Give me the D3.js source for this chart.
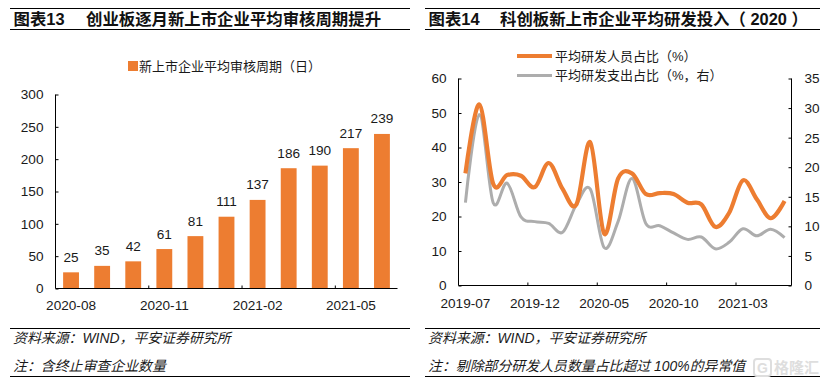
<!DOCTYPE html>
<html>
<head>
<meta charset="utf-8">
<script src="https://cdn.jsdelivr.net/npm/d3@7"></script>
<style>
	body { margin: 0; background: #fff; }
	svg { display: block; }
	text { fill: #1a1a1a; font-family: "Liberation Sans", "Noto Sans CJK SC", sans-serif; }
	.tick text, .num { font-size: 13.6px; }
	.legend { font-size: 13px; }
	.title { font-size: 16.4px; font-weight: bold; fill: #111; }
	.note { font-size: 13.9px; font-style: italic; }
	.rule, .domain, .tick line, .axis-line { stroke: #000; stroke-width: 1px; }
</style>
</head>
<body>
<svg id="chart" width="827" height="384"></svg>
<script>
const orange = "#ED7D31";
const gray = "#ADADAD";

// figure 13
const reviewMonths = ["2020-08", "2020-09", "2020-10", "2020-11", "2020-12", "2021-01", "2021-02", "2021-03", "2021-04", "2021-05", "2021-06"];
const reviewDays = [25, 35, 42, 61, 81, 111, 137, 186, 190, 217, 239];
const reviewTicks = [0, 50, 100, 150, 200, 250, 300];
const reviewLabels = ["2020-08", "2020-11", "2021-02", "2021-05"];

// figure 14
const rdMonths = ["2019-07", "2019-08", "2019-09", "2019-10", "2019-11", "2019-12", "2020-01", "2020-02", "2020-03", "2020-04", "2020-05", "2020-06", "2020-07", "2020-08", "2020-09", "2020-10", "2020-11", "2020-12", "2021-01", "2021-02", "2021-03", "2021-04", "2021-05", "2021-06"];
const rdStaff = [32.5, 52.5, 29.5, 32, 31.8, 28.5, 35.5, 28, 23.5, 41.5, 15, 31, 32.5, 26.5, 26.8, 26.5, 24, 23.5, 17, 21, 30.5, 25, 19.5, 24.5];
const rdSpend = [14, 28.9, 14, 17.3, 11.6, 10.8, 10.5, 9, 13.7, 16.3, 6.4, 10.8, 18.1, 10.5, 10.1, 8.9, 7.8, 8.2, 6.2, 7.3, 9.6, 8.4, 9.5, 8.1];
const rdLeftTicks = [0, 10, 20, 30, 40, 50, 60];
const rdRightTicks = [0, 5, 10, 15, 20, 25, 30, 35];
const rdLabels = ["2019-07", "2019-12", "2020-05", "2020-10", "2021-03"];

const svg = d3.select("#chart");

function drawFrame(x1, x2, label, title, titleX, note1, note2) {
	[8.5, 29.5, 328.5, 376.5].forEach(function(y) {
		svg.append("line").attr("class", "rule")
			.attr("x1", x1).attr("x2", x2).attr("y1", y).attr("y2", y);
	});
	svg.append("text").attr("class", "title").attr("x", x1 + 3.5).attr("y", 25).text(label);
	svg.append("text").attr("class", "title").attr("x", titleX).attr("y", 25).text(title);
	svg.append("text").attr("class", "note").attr("x", x1 + 3).attr("y", 343).text(note1);
	svg.append("text").attr("class", "note").attr("x", x1 + 3).attr("y", 371).text(note2);
}

function drawAxisX(scale, labels, y, stepTicks, pad) {
	let axis = svg.append("g")
		.attr("transform", `translate(0,${y})`)
		.call(d3.axisBottom(scale).tickValues(labels).tickSize(0).tickPadding(pad));
	axis.select(".domain").remove();
	axis.selectAll("text").attr("dy", "0.71em");
	let bw = scale.step();
	svg.append("g").selectAll("line")
		.data(stepTicks)
		.enter()
		.append("line")
		.attr("class", "axis-line")
		.attr("x1", d => scale(d) - (bw - scale.bandwidth()) / 2)
		.attr("x2", d => scale(d) - (bw - scale.bandwidth()) / 2)
		.attr("y1", y)
		.attr("y2", y - 3);
	svg.append("line").attr("class", "axis-line")
		.attr("x1", scale.range()[0]).attr("x2", scale.range()[1])
		.attr("y1", y).attr("y2", y);
}

// ---- left chart ----
drawFrame(10, 410, "图表13", "创业板逐月新上市企业平均审核周期提升", 86,
	"资料来源：WIND，平安证券研究所", "注：含终止审查企业数量");

let xBar = d3.scaleBand().domain(reviewMonths).range([55.5, 397.5]).paddingInner(0.49).paddingOuter(0.245);
let yBar = d3.scaleLinear().domain([0, 300]).range([288.5, 94.5]);

svg.append("g")
	.attr("transform", "translate(55.5,0)")
	.call(d3.axisRight(yBar).tickValues(reviewTicks).tickSize(3).tickFormat(""))
	.select(".domain").attr("d", `M0,${yBar(300)}V${yBar(0)}`);
svg.append("g")
	.attr("transform", "translate(55.5,0)")
	.call(d3.axisLeft(yBar).tickValues(reviewTicks).tickSize(0).tickPadding(12))
	.select(".domain").remove();

svg.append("g").selectAll("rect")
	.data(reviewDays)
	.enter()
	.append("rect")
	.attr("x", (d, i) => xBar(reviewMonths[i]))
	.attr("y", d => yBar(d))
	.attr("width", xBar.bandwidth())
	.attr("height", d => yBar(0) - yBar(d))
	.attr("fill", orange);

svg.append("g").selectAll("text")
	.data(reviewDays)
	.enter()
	.append("text")
	.attr("class", "num")
	.attr("x", (d, i) => xBar(reviewMonths[i]) + xBar.bandwidth() / 2)
	.attr("y", d => yBar(d) - 10.5)
	.attr("text-anchor", "middle")
	.text(d => d);

drawAxisX(xBar, reviewLabels, 288.5, ["2020-11", "2021-02", "2021-05"], 12);

svg.append("rect").attr("x", 128).attr("y", 61).attr("width", 10).attr("height", 10).attr("fill", orange);
svg.append("text").attr("class", "legend").attr("x", 139).attr("y", 70.5).text("新上市企业平均审核周期（日）");

// ---- right chart ----
drawFrame(425, 820, "图表14", "科创板新上市企业平均研发投入（ 2020 ）", 500,
	"资料来源：WIND，平安证券研究所", "注：剔除部分研发人员数量占比超过 100%的异常值");

let xLine = d3.scaleBand().domain(rdMonths).range([458.5, 791.5]);
let yLeft = d3.scaleLinear().domain([0, 60]).range([285.5, 78.5]);
let yRight = d3.scaleLinear().domain([0, 35]).range([285.5, 78.5]);
let cx = i => xLine(rdMonths[i]) + xLine.bandwidth() / 2;

svg.append("g")
	.attr("transform", "translate(458.5,0)")
	.call(d3.axisRight(yLeft).tickValues(rdLeftTicks).tickSize(3).tickFormat(""))
	.select(".domain").attr("d", `M0,${yLeft(60)}V${yLeft(0)}`);
svg.append("g")
	.attr("transform", "translate(458.5,0)")
	.call(d3.axisLeft(yLeft).tickValues(rdLeftTicks).tickSize(0).tickPadding(12))
	.select(".domain").remove();
svg.append("g")
	.attr("transform", "translate(791.5,0)")
	.call(d3.axisLeft(yRight).tickValues(rdRightTicks).tickSize(3).tickFormat(""))
	.select(".domain").attr("d", `M0,${yRight(35)}V${yRight(0)}`);
svg.append("g")
	.attr("transform", "translate(791.5,0)")
	.call(d3.axisRight(yRight).tickValues(rdRightTicks).tickSize(0).tickPadding(13))
	.select(".domain").remove();

drawAxisX(xLine, rdLabels, 285.5, ["2019-12", "2020-05", "2020-10", "2021-03"], 13);

let spendLine = d3.line().x((d, i) => cx(i)).y(d => yRight(d)).curve(d3.curveCatmullRom.alpha(0));
let staffLine = d3.line().x((d, i) => cx(i)).y(d => yLeft(d)).curve(d3.curveCatmullRom.alpha(0));

svg.append("path").datum(rdSpend).attr("d", spendLine)
	.attr("fill", "none").attr("stroke", gray).attr("stroke-width", 3);
svg.append("path").datum(rdStaff).attr("d", staffLine)
	.attr("fill", "none").attr("stroke", orange).attr("stroke-width", 4.2);

svg.append("line").attr("x1", 517).attr("x2", 552).attr("y1", 56).attr("y2", 56)
	.attr("stroke", orange).attr("stroke-width", 4.2);
svg.append("line").attr("x1", 517).attr("x2", 552).attr("y1", 75.5).attr("y2", 75.5)
	.attr("stroke", gray).attr("stroke-width", 3);
svg.append("text").attr("class", "legend").attr("x", 555).attr("y", 60.5).text("平均研发人员占比（%）");
svg.append("text").attr("class", "legend").attr("x", 555).attr("y", 80).text("平均研发支出占比（%，右）");

// watermark
svg.append("rect").attr("x", 754).attr("y", 359).attr("width", 17).attr("height", 17).attr("rx", 3)
	.attr("fill", "none").attr("stroke", "#dedede").attr("stroke-width", 2);
svg.append("text").attr("x", 762.5).attr("y", 373).attr("text-anchor", "middle")
	.style("fill", "#dedede").style("font-size", "14px").style("font-weight", "bold").text("G");
svg.append("text").attr("x", 774).attr("y", 373)
	.style("fill", "#dedede").style("font-size", "15px").style("font-weight", "bold").text("格隆汇");
</script>
</body>
</html>
